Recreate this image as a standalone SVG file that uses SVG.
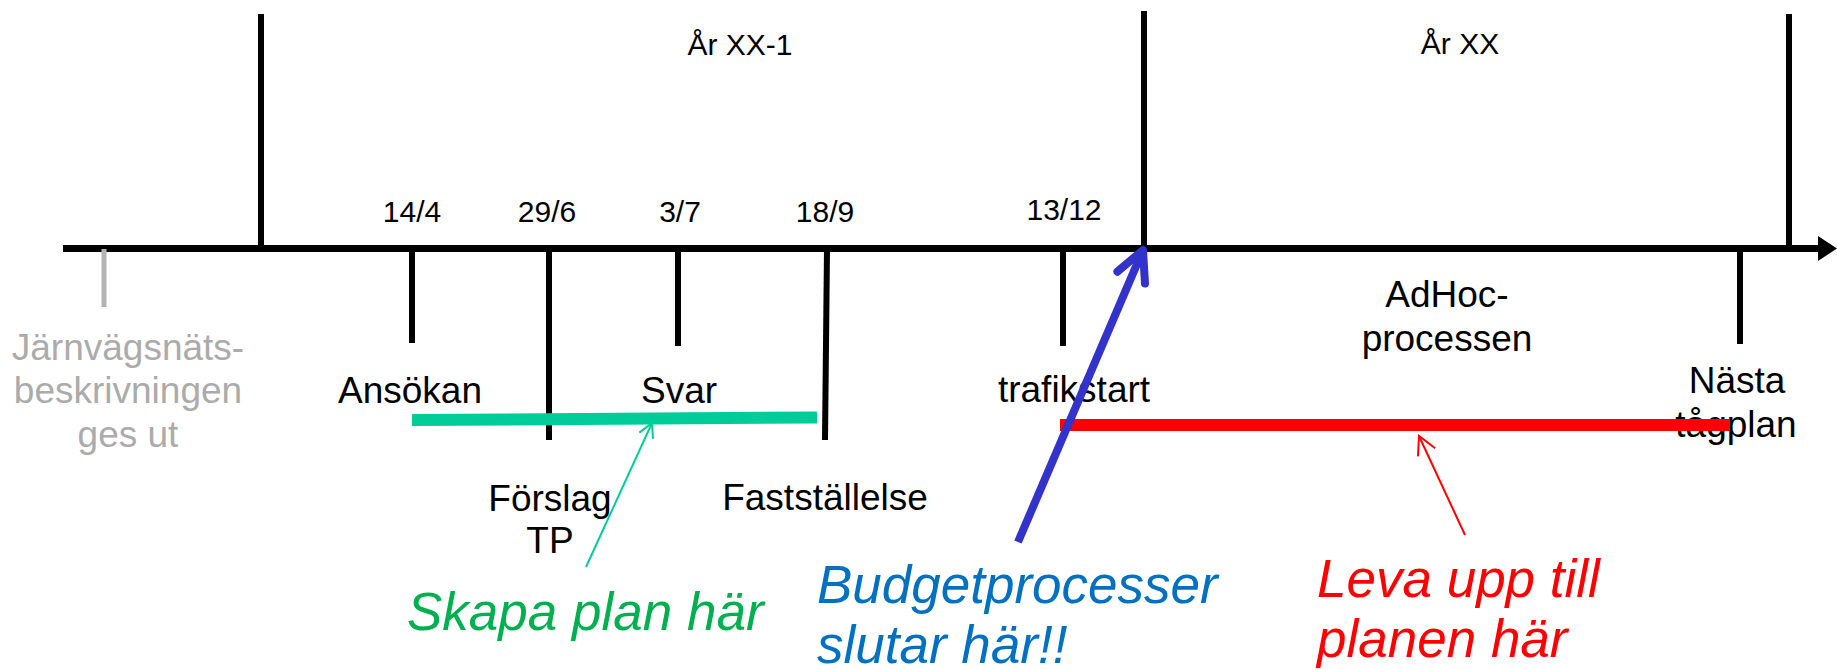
<svg xmlns="http://www.w3.org/2000/svg" width="1837" height="670" viewBox="0 0 1837 670">
  <style>
    .txt { font-family: "Liberation Sans", Arial, sans-serif; text-anchor: middle; fill: #000; }
    .lbl { font-size: 37px; }
    .date { font-size: 30px; }
    .year { font-size: 30px; }
    .grey { fill: #ABABAB; }
    .note { font-family: "Liberation Sans", Arial, sans-serif; font-style: italic; font-size: 53px; }
    .axis { stroke: #000; stroke-width: 7; fill: none; }
    .tick { stroke: #000; stroke-width: 6; fill: none; }
    .divider { stroke: #000; stroke-width: 6; fill: none; }
  </style>
  <defs>
    <marker id="headGreen" markerUnits="userSpaceOnUse" markerWidth="20" markerHeight="20" refX="15" refY="7.5" orient="auto" overflow="visible">
      <path d="M1,0 L15,7.5 L1,15" fill="none" stroke="#00CC99" stroke-width="2"/>
    </marker>
    <marker id="headRed" markerUnits="userSpaceOnUse" markerWidth="24" markerHeight="24" refX="19" refY="9.5" orient="auto" overflow="visible">
      <path d="M1,0 L19,9.5 L1,19" fill="none" stroke="#FF0000" stroke-width="2"/>
    </marker>
    <marker id="headBlue" markerUnits="userSpaceOnUse" markerWidth="40" markerHeight="40" refX="30" refY="15" orient="auto" overflow="visible">
      <path d="M0,0 L30,15 L0,30" fill="none" stroke="#3333CC" stroke-width="8" stroke-linecap="round" stroke-linejoin="round"/>
    </marker>
  </defs>
  <rect width="1837" height="670" fill="#fff"/>

  <!-- time axis with year dividers -->
  <g id="timeline">
    <line class="axis" x1="63" y1="248.5" x2="1822" y2="248.5"/>
    <polygon points="1818,236 1837,248.5 1818,261" fill="#000"/>
    <line class="divider" x1="261" y1="14" x2="261" y2="249"/>
    <line class="divider" x1="1144" y1="11" x2="1144" y2="249"/>
    <line class="divider" x1="1789" y1="14" x2="1789" y2="249"/>
  </g>

  <g id="year-prev">
    <text class="txt year" x="740" y="55">År XX-1</text>
  </g>
  <g id="year-curr">
    <text class="txt year" x="1460" y="54">År XX</text>
  </g>

  <!-- network statement release -->
  <g id="jnb">
    <line x1="104" y1="249" x2="104" y2="307" stroke="#B3B3B3" stroke-width="5"/>
    <text class="txt lbl grey" x="128" y="360">Järnvägsnäts-</text>
    <text class="txt lbl grey" x="128" y="403">beskrivningen</text>
    <text class="txt lbl grey" x="128" y="447">ges ut</text>
  </g>

  <g id="ansokan">
    <line class="tick" x1="412" y1="249" x2="412" y2="343"/>
    <text class="txt date" x="412" y="222">14/4</text>
    <text class="txt lbl" x="410" y="403">Ansökan</text>
  </g>

  <g id="forslag">
    <line class="tick" x1="549" y1="249" x2="549" y2="440"/>
    <text class="txt date" x="547" y="222">29/6</text>
    <text class="txt lbl" x="550" y="511">Förslag</text>
    <text class="txt lbl" x="550" y="553">TP</text>
  </g>

  <g id="svar">
    <line class="tick" x1="678" y1="249" x2="678" y2="346"/>
    <text class="txt date" x="680" y="222">3/7</text>
    <text class="txt lbl" x="679" y="403">Svar</text>
  </g>

  <g id="faststallelse">
    <line class="tick" x1="827" y1="249" x2="825" y2="440"/>
    <text class="txt date" x="825" y="222">18/9</text>
    <text class="txt lbl" x="825" y="510">Fastställelse</text>
  </g>

  <g id="trafikstart">
    <line class="tick" x1="1063" y1="249" x2="1063" y2="346"/>
    <text class="txt date" x="1064" y="220">13/12</text>
    <text class="txt lbl" x="1074" y="402">trafikstart</text>
  </g>

  <g id="adhoc">
    <text class="txt lbl" x="1447" y="307">AdHoc-</text>
    <text class="txt lbl" x="1447" y="351">processen</text>
  </g>

  <g id="nasta">
    <line class="tick" x1="1740" y1="249" x2="1740" y2="344"/>
    <text class="txt lbl" x="1737" y="393">Nästa</text>
    <text class="txt lbl" x="1736" y="437">tågplan</text>
  </g>

  <!-- planning and execution periods -->
  <g id="plan-period">
    <line x1="412" y1="420" x2="817" y2="417.5" stroke="#00CC99" stroke-width="12"/>
  </g>
  <g id="run-period">
    <line x1="1060" y1="425" x2="1730" y2="425" stroke="#FF0000" stroke-width="12"/>
  </g>

  <g id="note-plan">
    <text class="note" x="407" y="630" fill="#00B050">Skapa plan här</text>
  </g>
  <g id="note-budget">
    <text class="note" x="817" y="603" fill="#0070C0">Budgetprocesser</text>
    <text class="note" x="817" y="663" fill="#0070C0">slutar här!!</text>
  </g>
  <g id="note-live">
    <text class="note" x="1317" y="597" fill="#FF0000">Leva upp till</text>
    <text class="note" x="1317" y="657" fill="#FF0000">planen här</text>
  </g>

  <!-- pointers from notes -->
  <g id="connectors">
    <line x1="586" y1="567" x2="652" y2="423" stroke="#00CC99" stroke-width="2" marker-end="url(#headGreen)"/>
    <line x1="1465" y1="535" x2="1419" y2="436" stroke="#FF0000" stroke-width="2" marker-end="url(#headRed)"/>
    <line x1="1018" y1="542" x2="1143" y2="250" stroke="#3333CC" stroke-width="8" stroke-linecap="butt" marker-end="url(#headBlue)"/>
  </g>
</svg>
